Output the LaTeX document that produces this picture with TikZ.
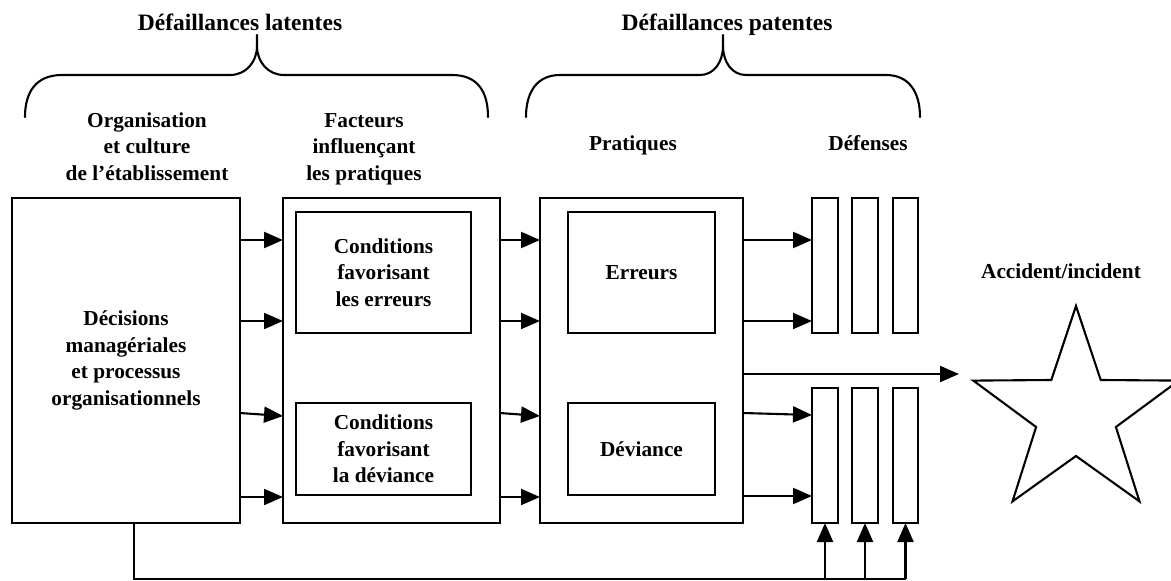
\documentclass[tikz,border=0pt]{standalone}
\usepackage{fontspec}
\setmainfont{Liberation Serif}
\usetikzlibrary{arrows.meta}
\newcommand{\myBody}{\fontsize{21.3}{26.5}\selectfont\bfseries}
\newcommand{\myTitle}{\fontsize{23.5}{28}\selectfont\bfseries}
\begin{document}
\begin{tikzpicture}[x=1pt,y=-1pt,line width=2.1pt,
  box/.style={draw,rectangle,inner sep=0pt,outer sep=0pt,anchor=north west,align=center,font=\myBody},
  arr/.style={-{Triangle[length=19pt,width=16pt]}},
  lbl/.style={font=\myBody,align=center,inner sep=0pt,anchor=base},
  ttl/.style={font=\myTitle,inner sep=0pt,anchor=base},
  brace/.style={line join=round,line cap=round}]
\useasboundingbox (0,0) rectangle (1171,581);
% titles
\node[ttl] (tlat) at (240,30) {Défaillances latentes};
\node[ttl] (tpat) at (727,30) {Défaillances patentes};
% braces
\draw[brace] (25,117) .. controls (25,92) and (36,75) .. (62,75) -- (230,75) .. controls (246,75) and (257,62) .. (257,46) -- (257,35);
\draw[brace] (257,46) .. controls (257,62) and (268,75) .. (284,75) -- (452,75) .. controls (478,75) and (488,92) .. (488,117);
\draw[brace] (526,117) .. controls (526,92) and (537,75) .. (560,75) -- (700,75) .. controls (714,75) and (723,62) .. (723,46) -- (723,35);
\draw[brace] (723,46) .. controls (723,62) and (732,75) .. (746,75) -- (886,75) .. controls (909,75) and (920,92) .. (920,117);
% column heads (base anchor = last line)
\node[lbl] (horg) at (147,180) {Organisation\\et culture\\de l’établissement};
\node[lbl] (hfac) at (364,180) {Facteurs\\influençant\\les pratiques};
\node[lbl] (hpra) at (633,150) {Pratiques};
\node[lbl] (hdef) at (868,150) {Défenses};
\node[lbl] (hacc) at (1061,278) {Accident/incident};
% boxes
\node[box,minimum width=228,minimum height=325] (org) at (12,198) {Décisions\\managériales\\et processus\\organisationnels};
\node[box,minimum width=217,minimum height=325] (fac) at (283,198) {};
\node[box,minimum width=175,minimum height=121] (faca) at (296,212) {Conditions\\favorisant\\les erreurs};
\node[box,minimum width=175,minimum height=92] (facb) at (296,403) {Conditions\\favorisant\\la déviance};
\node[box,minimum width=203,minimum height=325] (prac) at (540,198) {};
\node[box,minimum width=147,minimum height=121] (praca) at (568,212) {Erreurs};
\node[box,minimum width=147,minimum height=92] (pracb) at (568,403) {Déviance};
% defense bars
\node[box,minimum width=26,minimum height=135] (b1) at (812,198) {};
\node[box,minimum width=26,minimum height=135] (b2) at (852,198) {};
\node[box,minimum width=25,minimum height=135] (b3) at (893,198) {};
\node[box,minimum width=26,minimum height=135] (b4) at (812,388) {};
\node[box,minimum width=26,minimum height=135] (b5) at (852,388) {};
\node[box,minimum width=25,minimum height=135] (b6) at (893,388) {};
% arrows org -> fac
\draw[arr] (org.east |- 0,240) -- (fac.west |- 0,240);
\draw[arr] (org.east |- 0,321) -- (fac.west |- 0,321);
\draw[arr] (org.east |- 0,413) -- (fac.west |- 0,416);
\draw[arr] (org.east |- 0,497) -- (fac.west |- 0,497);
% arrows fac -> prac
\draw[arr] (fac.east |- 0,240) -- (prac.west |- 0,240);
\draw[arr] (fac.east |- 0,321) -- (prac.west |- 0,321);
\draw[arr] (fac.east |- 0,413) -- (prac.west |- 0,416);
\draw[arr] (fac.east |- 0,497) -- (prac.west |- 0,497);
% arrows prac -> bars
\draw[arr] (prac.east |- 0,240) -- (b1.west |- 0,240);
\draw[arr] (prac.east |- 0,321) -- (b1.west |- 0,321);
\draw[arr] (prac.east |- 0,413) -- (b4.west |- 0,415);
\draw[arr] (prac.east |- 0,496) -- (b4.west |- 0,496);
% arrow to star
\coordinate (starL) at (959,374);
\draw[arr] (prac.east |- starL) -- (starL);
% star
\draw[line join=miter] (1076,306) -- (1100.7,380) -- (1178.7,380.6) -- (1115.9,427) -- (1139.5,501.4) -- (1076,456) -- (1012.5,501.4) -- (1036.1,427) -- (973.3,380.6) -- (1051.3,380) -- cycle;
% feedback
\coordinate (fb) at (134,579);
\draw (org.south -| fb) |- (b6.south |- fb);
\draw[arr] (b4.south |- fb) -- (b4.south);
\draw[arr] (b5.south |- fb) -- (b5.south);
\draw[arr] (b6.south |- fb) -- (b6.south);
\end{tikzpicture}
\end{document}
